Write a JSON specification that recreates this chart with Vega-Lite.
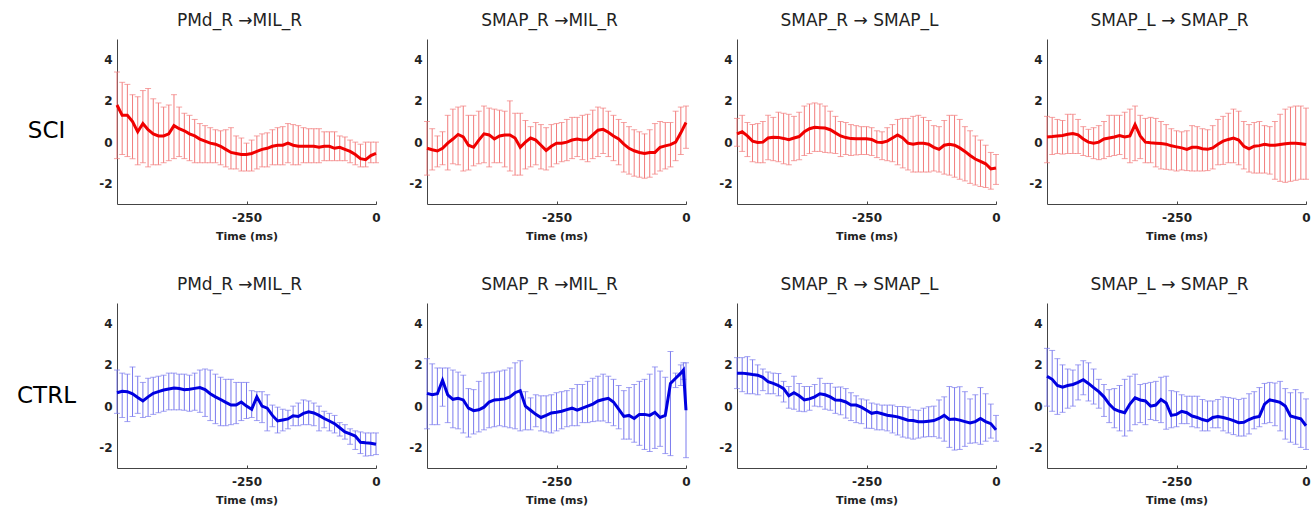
{
"$schema": "https://vega.github.io/schema/vega-lite/v6.json",
"padding": {"left": 16, "top": 12, "right": 5, "bottom": 5},
"background": "white",
"data": {"values": [
{"p":1,"t":-500,"m":1.8,"lo":-0.8,"hi":3.4},{"p":1,"t":-490,"m":1.3,"lo":-0.6,"hi":2.9},{"p":1,"t":-480,"m":1.3,"lo":-0.7,"hi":2.8},{"p":1,"t":-470,"m":1.0,"lo":-0.8,"hi":2.3},{"p":1,"t":-460,"m":0.5,"lo":-1.1,"hi":2.2},{"p":1,"t":-450,"m":0.9,"lo":-1.0,"hi":2.5},{"p":1,"t":-440,"m":0.6,"lo":-1.2,"hi":2.6},{"p":1,"t":-430,"m":0.4,"lo":-1.1,"hi":2.1},{"p":1,"t":-420,"m":0.3,"lo":-1.1,"hi":1.9},{"p":1,"t":-410,"m":0.3,"lo":-1.0,"hi":1.7},{"p":1,"t":-400,"m":0.4,"lo":-0.9,"hi":1.8},{"p":1,"t":-390,"m":0.8,"lo":-0.8,"hi":2.3},{"p":1,"t":-380,"m":0.65,"lo":-0.7,"hi":1.7},{"p":1,"t":-370,"m":0.55,"lo":-0.8,"hi":1.4},{"p":1,"t":-360,"m":0.4,"lo":-0.9,"hi":1.3},{"p":1,"t":-350,"m":0.3,"lo":-1.0,"hi":1.1},{"p":1,"t":-340,"m":0.15,"lo":-1.0,"hi":0.9},{"p":1,"t":-330,"m":0.05,"lo":-1.0,"hi":0.8},{"p":1,"t":-320,"m":-0.05,"lo":-1.0,"hi":0.7},{"p":1,"t":-310,"m":-0.1,"lo":-1.0,"hi":0.6},{"p":1,"t":-300,"m":-0.2,"lo":-1.1,"hi":0.55},{"p":1,"t":-290,"m":-0.35,"lo":-1.2,"hi":0.6},{"p":1,"t":-280,"m":-0.5,"lo":-1.3,"hi":0.7},{"p":1,"t":-270,"m":-0.55,"lo":-1.3,"hi":0.3},{"p":1,"t":-260,"m":-0.6,"lo":-1.4,"hi":0.2},{"p":1,"t":-250,"m":-0.6,"lo":-1.4,"hi":-0.05},{"p":1,"t":-240,"m":-0.55,"lo":-1.4,"hi":0.1},{"p":1,"t":-230,"m":-0.45,"lo":-1.3,"hi":0.3},{"p":1,"t":-220,"m":-0.35,"lo":-1.2,"hi":0.4},{"p":1,"t":-210,"m":-0.3,"lo":-1.2,"hi":0.45},{"p":1,"t":-200,"m":-0.2,"lo":-1.1,"hi":0.6},{"p":1,"t":-190,"m":-0.15,"lo":-1.1,"hi":0.7},{"p":1,"t":-180,"m":-0.15,"lo":-1.1,"hi":0.75},{"p":1,"t":-170,"m":-0.05,"lo":-1.0,"hi":0.9},{"p":1,"t":-160,"m":-0.15,"lo":-1.1,"hi":0.85},{"p":1,"t":-150,"m":-0.2,"lo":-1.1,"hi":0.8},{"p":1,"t":-140,"m":-0.2,"lo":-1.0,"hi":0.7},{"p":1,"t":-130,"m":-0.2,"lo":-1.0,"hi":0.65},{"p":1,"t":-120,"m":-0.2,"lo":-1.0,"hi":0.65},{"p":1,"t":-110,"m":-0.25,"lo":-1.0,"hi":0.65},{"p":1,"t":-100,"m":-0.2,"lo":-0.9,"hi":0.5},{"p":1,"t":-90,"m":-0.2,"lo":-0.9,"hi":0.5},{"p":1,"t":-80,"m":-0.3,"lo":-0.9,"hi":0.5},{"p":1,"t":-70,"m":-0.25,"lo":-0.9,"hi":0.3},{"p":1,"t":-60,"m":-0.35,"lo":-0.9,"hi":0.25},{"p":1,"t":-50,"m":-0.45,"lo":-1.0,"hi":0.1},{"p":1,"t":-40,"m":-0.6,"lo":-1.1,"hi":0.0},{"p":1,"t":-30,"m":-0.8,"lo":-1.2,"hi":-0.1},{"p":1,"t":-20,"m":-0.85,"lo":-1.2,"hi":0.0},{"p":1,"t":-10,"m":-0.65,"lo":-1.0,"hi":0.0},{"p":1,"t":0,"m":-0.55,"lo":-1.0,"hi":0.0},
{"p":2,"t":-500,"m":-0.3,"lo":-1.6,"hi":1.0},{"p":2,"t":-490,"m":-0.37,"lo":-1.35,"hi":0.65},{"p":2,"t":-480,"m":-0.43,"lo":-1.2,"hi":0.3},{"p":2,"t":-470,"m":-0.3,"lo":-1.1,"hi":0.5},{"p":2,"t":-460,"m":-0.05,"lo":-1.35,"hi":1.3},{"p":2,"t":-450,"m":0.15,"lo":-1.05,"hi":1.6},{"p":2,"t":-440,"m":0.37,"lo":-1.1,"hi":1.7},{"p":2,"t":-430,"m":0.25,"lo":-1.4,"hi":1.75},{"p":2,"t":-420,"m":-0.15,"lo":-1.35,"hi":1.3},{"p":2,"t":-410,"m":-0.25,"lo":-1.15,"hi":1.3},{"p":2,"t":-400,"m":0.1,"lo":-1.05,"hi":1.5},{"p":2,"t":-390,"m":0.4,"lo":-1.0,"hi":1.75},{"p":2,"t":-380,"m":0.35,"lo":-1.2,"hi":1.65},{"p":2,"t":-370,"m":0.15,"lo":-1.0,"hi":1.6},{"p":2,"t":-360,"m":0.3,"lo":-1.0,"hi":1.55},{"p":2,"t":-350,"m":0.35,"lo":-1.2,"hi":1.5},{"p":2,"t":-340,"m":0.35,"lo":-1.4,"hi":2.0},{"p":2,"t":-330,"m":0.2,"lo":-1.6,"hi":1.4},{"p":2,"t":-320,"m":-0.25,"lo":-1.6,"hi":1.4},{"p":2,"t":-310,"m":0.0,"lo":-1.3,"hi":1.05},{"p":2,"t":-300,"m":0.2,"lo":-1.2,"hi":0.75},{"p":2,"t":-290,"m":0.1,"lo":-1.1,"hi":0.95},{"p":2,"t":-280,"m":-0.15,"lo":-1.3,"hi":0.85},{"p":2,"t":-270,"m":-0.4,"lo":-1.35,"hi":0.7},{"p":2,"t":-260,"m":-0.2,"lo":-1.2,"hi":0.85},{"p":2,"t":-250,"m":-0.05,"lo":-1.05,"hi":0.9},{"p":2,"t":-240,"m":-0.05,"lo":-0.95,"hi":0.95},{"p":2,"t":-230,"m":0.0,"lo":-0.9,"hi":1.1},{"p":2,"t":-220,"m":0.1,"lo":-0.8,"hi":1.2},{"p":2,"t":-210,"m":0.15,"lo":-0.7,"hi":1.2},{"p":2,"t":-200,"m":0.1,"lo":-0.85,"hi":1.3},{"p":2,"t":-190,"m":0.12,"lo":-0.95,"hi":1.35},{"p":2,"t":-180,"m":0.35,"lo":-0.8,"hi":1.55},{"p":2,"t":-170,"m":0.58,"lo":-0.7,"hi":1.7},{"p":2,"t":-160,"m":0.62,"lo":-0.55,"hi":1.65},{"p":2,"t":-150,"m":0.48,"lo":-0.7,"hi":1.5},{"p":2,"t":-140,"m":0.3,"lo":-0.9,"hi":1.3},{"p":2,"t":-130,"m":0.15,"lo":-1.1,"hi":1.1},{"p":2,"t":-120,"m":-0.1,"lo":-1.45,"hi":0.95},{"p":2,"t":-110,"m":-0.3,"lo":-1.55,"hi":0.75},{"p":2,"t":-100,"m":-0.42,"lo":-1.65,"hi":0.6},{"p":2,"t":-90,"m":-0.5,"lo":-1.7,"hi":0.5},{"p":2,"t":-80,"m":-0.55,"lo":-1.75,"hi":0.4},{"p":2,"t":-70,"m":-0.5,"lo":-1.7,"hi":0.6},{"p":2,"t":-60,"m":-0.5,"lo":-1.55,"hi":0.9},{"p":2,"t":-50,"m":-0.25,"lo":-1.4,"hi":1.0},{"p":2,"t":-40,"m":-0.18,"lo":-1.3,"hi":0.95},{"p":2,"t":-30,"m":-0.12,"lo":-1.2,"hi":0.95},{"p":2,"t":-20,"m":0.0,"lo":-0.9,"hi":1.5},{"p":2,"t":-10,"m":0.45,"lo":-0.6,"hi":1.7},{"p":2,"t":0,"m":0.95,"lo":-0.3,"hi":1.75},
{"p":3,"t":-500,"m":0.4,"lo":-0.2,"hi":1.15},{"p":3,"t":-490,"m":0.5,"lo":-0.45,"hi":1.3},{"p":3,"t":-480,"m":0.3,"lo":-0.7,"hi":0.95},{"p":3,"t":-470,"m":0.05,"lo":-0.95,"hi":0.85},{"p":3,"t":-460,"m":-0.02,"lo":-1.0,"hi":0.9},{"p":3,"t":-450,"m":0.0,"lo":-1.0,"hi":1.0},{"p":3,"t":-440,"m":0.2,"lo":-0.85,"hi":1.3},{"p":3,"t":-430,"m":0.24,"lo":-0.9,"hi":1.2},{"p":3,"t":-420,"m":0.23,"lo":-0.95,"hi":1.45},{"p":3,"t":-410,"m":0.18,"lo":-1.05,"hi":1.4},{"p":3,"t":-400,"m":0.12,"lo":-1.1,"hi":1.35},{"p":3,"t":-390,"m":0.2,"lo":-0.9,"hi":1.25},{"p":3,"t":-380,"m":0.27,"lo":-0.85,"hi":1.45},{"p":3,"t":-370,"m":0.5,"lo":-0.65,"hi":1.75},{"p":3,"t":-360,"m":0.65,"lo":-0.55,"hi":1.85},{"p":3,"t":-350,"m":0.72,"lo":-0.45,"hi":1.9},{"p":3,"t":-340,"m":0.7,"lo":-0.45,"hi":1.85},{"p":3,"t":-330,"m":0.68,"lo":-0.5,"hi":1.75},{"p":3,"t":-320,"m":0.6,"lo":-0.52,"hi":1.5},{"p":3,"t":-310,"m":0.45,"lo":-0.55,"hi":1.25},{"p":3,"t":-300,"m":0.3,"lo":-0.7,"hi":1.0},{"p":3,"t":-290,"m":0.22,"lo":-0.6,"hi":0.95},{"p":3,"t":-280,"m":0.17,"lo":-0.65,"hi":0.85},{"p":3,"t":-270,"m":0.16,"lo":-0.62,"hi":0.8},{"p":3,"t":-260,"m":0.16,"lo":-0.6,"hi":0.75},{"p":3,"t":-250,"m":0.16,"lo":-0.6,"hi":0.75},{"p":3,"t":-240,"m":0.13,"lo":-0.65,"hi":0.7},{"p":3,"t":-230,"m":0.0,"lo":-0.75,"hi":0.55},{"p":3,"t":-220,"m":-0.02,"lo":-0.85,"hi":0.5},{"p":3,"t":-210,"m":0.05,"lo":-0.9,"hi":0.7},{"p":3,"t":-200,"m":0.2,"lo":-0.95,"hi":0.85},{"p":3,"t":-190,"m":0.35,"lo":-1.1,"hi":1.1},{"p":3,"t":-180,"m":0.2,"lo":-1.25,"hi":1.15},{"p":3,"t":-170,"m":-0.05,"lo":-1.35,"hi":1.15},{"p":3,"t":-160,"m":-0.1,"lo":-1.45,"hi":1.25},{"p":3,"t":-150,"m":-0.05,"lo":-1.45,"hi":1.3},{"p":3,"t":-140,"m":-0.05,"lo":-1.45,"hi":1.2},{"p":3,"t":-130,"m":-0.1,"lo":-1.45,"hi":1.05},{"p":3,"t":-120,"m":-0.25,"lo":-1.4,"hi":0.8},{"p":3,"t":-110,"m":-0.35,"lo":-1.45,"hi":0.75},{"p":3,"t":-100,"m":-0.15,"lo":-1.55,"hi":1.05},{"p":3,"t":-90,"m":-0.1,"lo":-1.6,"hi":1.3},{"p":3,"t":-80,"m":-0.15,"lo":-1.7,"hi":1.3},{"p":3,"t":-70,"m":-0.28,"lo":-1.8,"hi":1.1},{"p":3,"t":-60,"m":-0.45,"lo":-1.88,"hi":0.75},{"p":3,"t":-50,"m":-0.65,"lo":-2.0,"hi":0.55},{"p":3,"t":-40,"m":-0.82,"lo":-2.08,"hi":0.3},{"p":3,"t":-30,"m":-0.93,"lo":-2.15,"hi":0.1},{"p":3,"t":-20,"m":-1.05,"lo":-2.2,"hi":-0.15},{"p":3,"t":-10,"m":-1.3,"lo":-2.28,"hi":-0.5},{"p":3,"t":0,"m":-1.25,"lo":-2.05,"hi":-0.6},
{"p":4,"t":-500,"m":0.25,"lo":-1.0,"hi":1.25},{"p":4,"t":-490,"m":0.27,"lo":-0.6,"hi":1.2},{"p":4,"t":-480,"m":0.3,"lo":-0.55,"hi":1.1},{"p":4,"t":-470,"m":0.32,"lo":-0.58,"hi":1.05},{"p":4,"t":-460,"m":0.38,"lo":-0.55,"hi":1.35},{"p":4,"t":-450,"m":0.42,"lo":-0.55,"hi":1.35},{"p":4,"t":-440,"m":0.35,"lo":-0.55,"hi":1.1},{"p":4,"t":-430,"m":0.15,"lo":-0.65,"hi":0.75},{"p":4,"t":-420,"m":0.0,"lo":-0.7,"hi":0.62},{"p":4,"t":-410,"m":-0.05,"lo":-0.8,"hi":0.7},{"p":4,"t":-400,"m":0.0,"lo":-0.85,"hi":0.8},{"p":4,"t":-390,"m":0.15,"lo":-0.8,"hi":1.0},{"p":4,"t":-380,"m":0.2,"lo":-0.7,"hi":1.3},{"p":4,"t":-370,"m":0.25,"lo":-0.65,"hi":1.3},{"p":4,"t":-360,"m":0.32,"lo":-0.6,"hi":1.3},{"p":4,"t":-350,"m":0.25,"lo":-0.8,"hi":1.45},{"p":4,"t":-340,"m":0.3,"lo":-1.0,"hi":1.6},{"p":4,"t":-330,"m":0.85,"lo":-0.9,"hi":1.75},{"p":4,"t":-320,"m":0.3,"lo":-0.8,"hi":1.3},{"p":4,"t":-310,"m":0.0,"lo":-1.0,"hi":1.15},{"p":4,"t":-300,"m":-0.03,"lo":-1.0,"hi":1.2},{"p":4,"t":-290,"m":-0.05,"lo":-1.2,"hi":1.15},{"p":4,"t":-280,"m":-0.07,"lo":-1.3,"hi":1.0},{"p":4,"t":-270,"m":-0.1,"lo":-1.32,"hi":0.85},{"p":4,"t":-260,"m":-0.18,"lo":-1.35,"hi":0.65},{"p":4,"t":-250,"m":-0.23,"lo":-1.4,"hi":0.55},{"p":4,"t":-240,"m":-0.28,"lo":-1.35,"hi":0.5},{"p":4,"t":-230,"m":-0.35,"lo":-1.38,"hi":0.55},{"p":4,"t":-220,"m":-0.25,"lo":-1.4,"hi":0.8},{"p":4,"t":-210,"m":-0.25,"lo":-1.4,"hi":0.75},{"p":4,"t":-200,"m":-0.32,"lo":-1.4,"hi":0.65},{"p":4,"t":-190,"m":-0.35,"lo":-1.38,"hi":0.6},{"p":4,"t":-180,"m":-0.28,"lo":-1.3,"hi":0.8},{"p":4,"t":-170,"m":-0.1,"lo":-1.1,"hi":1.1},{"p":4,"t":-160,"m":0.05,"lo":-1.08,"hi":1.25},{"p":4,"t":-150,"m":0.13,"lo":-1.0,"hi":1.4},{"p":4,"t":-140,"m":0.2,"lo":-1.0,"hi":1.6},{"p":4,"t":-130,"m":0.1,"lo":-1.1,"hi":1.5},{"p":4,"t":-120,"m":-0.2,"lo":-1.3,"hi":1.0},{"p":4,"t":-110,"m":-0.33,"lo":-1.45,"hi":0.85},{"p":4,"t":-100,"m":-0.2,"lo":-1.5,"hi":0.95},{"p":4,"t":-90,"m":-0.17,"lo":-1.5,"hi":1.0},{"p":4,"t":-80,"m":-0.1,"lo":-1.5,"hi":0.8},{"p":4,"t":-70,"m":-0.15,"lo":-1.55,"hi":0.75},{"p":4,"t":-60,"m":-0.15,"lo":-1.8,"hi":1.0},{"p":4,"t":-50,"m":-0.11,"lo":-1.9,"hi":1.35},{"p":4,"t":-40,"m":-0.08,"lo":-1.95,"hi":1.6},{"p":4,"t":-30,"m":-0.05,"lo":-1.9,"hi":1.7},{"p":4,"t":-20,"m":-0.05,"lo":-1.85,"hi":1.75},{"p":4,"t":-10,"m":-0.08,"lo":-1.8,"hi":1.75},{"p":4,"t":0,"m":-0.12,"lo":-1.8,"hi":1.65},
{"p":5,"t":-500,"m":0.65,"lo":-0.35,"hi":1.75},{"p":5,"t":-490,"m":0.72,"lo":-0.55,"hi":1.6},{"p":5,"t":-480,"m":0.7,"lo":-0.75,"hi":1.55},{"p":5,"t":-470,"m":0.6,"lo":-0.5,"hi":1.9},{"p":5,"t":-460,"m":0.42,"lo":-0.35,"hi":1.45},{"p":5,"t":-450,"m":0.25,"lo":-0.55,"hi":1.15},{"p":5,"t":-440,"m":0.45,"lo":-0.5,"hi":1.35},{"p":5,"t":-430,"m":0.62,"lo":-0.4,"hi":1.4},{"p":5,"t":-420,"m":0.7,"lo":-0.32,"hi":1.45},{"p":5,"t":-410,"m":0.78,"lo":-0.25,"hi":1.5},{"p":5,"t":-400,"m":0.83,"lo":-0.18,"hi":1.6},{"p":5,"t":-390,"m":0.88,"lo":-0.18,"hi":1.6},{"p":5,"t":-380,"m":0.85,"lo":-0.18,"hi":1.55},{"p":5,"t":-370,"m":0.8,"lo":-0.2,"hi":1.55},{"p":5,"t":-360,"m":0.82,"lo":-0.25,"hi":1.5},{"p":5,"t":-350,"m":0.86,"lo":-0.2,"hi":1.6},{"p":5,"t":-340,"m":0.9,"lo":-0.3,"hi":1.75},{"p":5,"t":-330,"m":0.8,"lo":-0.5,"hi":1.8},{"p":5,"t":-320,"m":0.6,"lo":-0.7,"hi":1.75},{"p":5,"t":-310,"m":0.45,"lo":-0.85,"hi":1.55},{"p":5,"t":-300,"m":0.32,"lo":-0.95,"hi":1.4},{"p":5,"t":-290,"m":0.18,"lo":-0.95,"hi":1.3},{"p":5,"t":-280,"m":0.05,"lo":-0.9,"hi":1.3},{"p":5,"t":-270,"m":0.05,"lo":-0.85,"hi":1.15},{"p":5,"t":-260,"m":0.2,"lo":-0.7,"hi":1.15},{"p":5,"t":-250,"m":0.0,"lo":-0.6,"hi":1.15},{"p":5,"t":-240,"m":-0.15,"lo":-0.55,"hi":0.75},{"p":5,"t":-230,"m":0.45,"lo":-0.7,"hi":0.7},{"p":5,"t":-220,"m":0.0,"lo":-0.8,"hi":0.7},{"p":5,"t":-210,"m":-0.1,"lo":-1.2,"hi":0.55},{"p":5,"t":-200,"m":-0.45,"lo":-1.0,"hi":0.05},{"p":5,"t":-190,"m":-0.72,"lo":-1.3,"hi":-0.05},{"p":5,"t":-180,"m":-0.67,"lo":-1.2,"hi":-0.15},{"p":5,"t":-170,"m":-0.62,"lo":-1.1,"hi":-0.2},{"p":5,"t":-160,"m":-0.47,"lo":-0.95,"hi":0.0},{"p":5,"t":-150,"m":-0.5,"lo":-0.95,"hi":0.15},{"p":5,"t":-140,"m":-0.35,"lo":-0.9,"hi":0.3},{"p":5,"t":-130,"m":-0.28,"lo":-0.9,"hi":0.25},{"p":5,"t":-120,"m":-0.33,"lo":-0.95,"hi":0.15},{"p":5,"t":-110,"m":-0.45,"lo":-1.2,"hi":0.0},{"p":5,"t":-100,"m":-0.6,"lo":-1.05,"hi":-0.25},{"p":5,"t":-90,"m":-0.72,"lo":-1.2,"hi":-0.35},{"p":5,"t":-80,"m":-0.85,"lo":-1.3,"hi":-0.45},{"p":5,"t":-70,"m":-1.05,"lo":-1.45,"hi":-0.8},{"p":5,"t":-60,"m":-1.25,"lo":-1.6,"hi":-0.9},{"p":5,"t":-50,"m":-1.35,"lo":-1.85,"hi":-1.1},{"p":5,"t":-40,"m":-1.45,"lo":-2.1,"hi":-1.2},{"p":5,"t":-30,"m":-1.75,"lo":-2.3,"hi":-1.25},{"p":5,"t":-20,"m":-1.78,"lo":-2.42,"hi":-1.3},{"p":5,"t":-10,"m":-1.8,"lo":-2.4,"hi":-1.3},{"p":5,"t":0,"m":-1.85,"lo":-2.35,"hi":-1.3},
{"p":6,"t":-500,"m":0.62,"lo":-1.1,"hi":2.3},{"p":6,"t":-490,"m":0.55,"lo":-0.9,"hi":2.05},{"p":6,"t":-480,"m":0.6,"lo":-0.9,"hi":1.85},{"p":6,"t":-470,"m":1.25,"lo":0.0,"hi":1.85},{"p":6,"t":-460,"m":0.55,"lo":-0.8,"hi":1.85},{"p":6,"t":-450,"m":0.33,"lo":-1.05,"hi":1.75},{"p":6,"t":-440,"m":0.38,"lo":-1.1,"hi":1.65},{"p":6,"t":-430,"m":0.3,"lo":-1.3,"hi":1.5},{"p":6,"t":-420,"m":-0.1,"lo":-1.5,"hi":0.85},{"p":6,"t":-410,"m":-0.22,"lo":-1.35,"hi":0.8},{"p":6,"t":-400,"m":-0.18,"lo":-1.25,"hi":1.2},{"p":6,"t":-390,"m":-0.05,"lo":-1.15,"hi":1.6},{"p":6,"t":-380,"m":0.2,"lo":-1.05,"hi":1.62},{"p":6,"t":-370,"m":0.3,"lo":-1.0,"hi":1.65},{"p":6,"t":-360,"m":0.32,"lo":-0.95,"hi":1.7},{"p":6,"t":-350,"m":0.35,"lo":-1.0,"hi":1.75},{"p":6,"t":-340,"m":0.45,"lo":-1.05,"hi":1.85},{"p":6,"t":-330,"m":0.65,"lo":-1.1,"hi":2.1},{"p":6,"t":-320,"m":0.75,"lo":-1.2,"hi":2.2},{"p":6,"t":-310,"m":0.0,"lo":-1.15,"hi":0.7},{"p":6,"t":-300,"m":-0.2,"lo":-1.15,"hi":0.4},{"p":6,"t":-290,"m":-0.4,"lo":-1.0,"hi":0.55},{"p":6,"t":-280,"m":-0.55,"lo":-1.2,"hi":0.5},{"p":6,"t":-270,"m":-0.45,"lo":-1.25,"hi":0.5},{"p":6,"t":-260,"m":-0.33,"lo":-1.3,"hi":0.55},{"p":6,"t":-250,"m":-0.3,"lo":-1.2,"hi":0.65},{"p":6,"t":-240,"m":-0.25,"lo":-1.1,"hi":0.7},{"p":6,"t":-230,"m":-0.17,"lo":-1.0,"hi":0.75},{"p":6,"t":-220,"m":-0.1,"lo":-0.95,"hi":0.85},{"p":6,"t":-210,"m":-0.2,"lo":-0.95,"hi":1.05},{"p":6,"t":-200,"m":-0.1,"lo":-0.8,"hi":1.05},{"p":6,"t":-190,"m":0.0,"lo":-0.8,"hi":1.2},{"p":6,"t":-180,"m":0.1,"lo":-0.75,"hi":1.35},{"p":6,"t":-170,"m":0.25,"lo":-0.72,"hi":1.45},{"p":6,"t":-160,"m":0.32,"lo":-0.72,"hi":1.55},{"p":6,"t":-150,"m":0.38,"lo":-0.8,"hi":1.45},{"p":6,"t":-140,"m":0.2,"lo":-0.95,"hi":1.3},{"p":6,"t":-130,"m":-0.15,"lo":-1.1,"hi":1.0},{"p":6,"t":-120,"m":-0.5,"lo":-1.6,"hi":0.75},{"p":6,"t":-110,"m":-0.45,"lo":-1.6,"hi":0.9},{"p":6,"t":-100,"m":-0.6,"lo":-1.75,"hi":1.05},{"p":6,"t":-90,"m":-0.4,"lo":-1.9,"hi":1.2},{"p":6,"t":-80,"m":-0.4,"lo":-2.1,"hi":1.3},{"p":6,"t":-70,"m":-0.45,"lo":-2.2,"hi":1.55},{"p":6,"t":-60,"m":-0.3,"lo":-2.05,"hi":1.9},{"p":6,"t":-50,"m":-0.55,"lo":-1.95,"hi":1.7},{"p":6,"t":-40,"m":-0.45,"lo":-2.3,"hi":1.4},{"p":6,"t":-30,"m":1.1,"lo":-2.4,"hi":2.65},{"p":6,"t":-20,"m":1.35,"lo":0.9,"hi":1.6},{"p":6,"t":-10,"m":1.6,"lo":1.0,"hi":2.0},{"p":6,"t":-5,"m":1.75,"lo":1.3,"hi":2.1},{"p":6,"t":0,"m":-0.2,"lo":-2.5,"hi":2.1},
{"p":7,"t":-500,"m":1.6,"lo":0.85,"hi":2.35},{"p":7,"t":-490,"m":1.6,"lo":0.7,"hi":2.35},{"p":7,"t":-480,"m":1.57,"lo":0.6,"hi":2.4},{"p":7,"t":-470,"m":1.53,"lo":0.6,"hi":2.25},{"p":7,"t":-460,"m":1.5,"lo":0.55,"hi":2.0},{"p":7,"t":-450,"m":1.4,"lo":0.75,"hi":1.8},{"p":7,"t":-440,"m":1.18,"lo":0.6,"hi":1.65},{"p":7,"t":-430,"m":1.1,"lo":0.6,"hi":1.6},{"p":7,"t":-420,"m":1.0,"lo":0.5,"hi":1.58},{"p":7,"t":-410,"m":0.85,"lo":0.2,"hi":1.2},{"p":7,"t":-400,"m":0.5,"lo":-0.1,"hi":0.95},{"p":7,"t":-390,"m":0.65,"lo":-0.15,"hi":1.45},{"p":7,"t":-380,"m":0.5,"lo":-0.25,"hi":1.1},{"p":7,"t":-370,"m":0.3,"lo":-0.27,"hi":0.95},{"p":7,"t":-360,"m":0.35,"lo":-0.2,"hi":0.95},{"p":7,"t":-350,"m":0.45,"lo":0.0,"hi":1.05},{"p":7,"t":-340,"m":0.6,"lo":-0.03,"hi":1.35},{"p":7,"t":-330,"m":0.55,"lo":-0.15,"hi":1.1},{"p":7,"t":-320,"m":0.45,"lo":-0.2,"hi":1.1},{"p":7,"t":-310,"m":0.3,"lo":-0.35,"hi":0.92},{"p":7,"t":-300,"m":0.28,"lo":-0.42,"hi":0.93},{"p":7,"t":-290,"m":0.2,"lo":-0.58,"hi":0.85},{"p":7,"t":-280,"m":0.05,"lo":-0.7,"hi":0.65},{"p":7,"t":-270,"m":0.05,"lo":-0.8,"hi":0.5},{"p":7,"t":-260,"m":-0.05,"lo":-0.85,"hi":0.35},{"p":7,"t":-250,"m":-0.2,"lo":-1.07,"hi":0.3},{"p":7,"t":-240,"m":-0.35,"lo":-1.08,"hi":0.15},{"p":7,"t":-230,"m":-0.3,"lo":-1.15,"hi":0.1},{"p":7,"t":-220,"m":-0.37,"lo":-1.15,"hi":0.05},{"p":7,"t":-210,"m":-0.44,"lo":-1.2,"hi":0.05},{"p":7,"t":-200,"m":-0.48,"lo":-1.3,"hi":0.05},{"p":7,"t":-190,"m":-0.52,"lo":-1.4,"hi":-0.02},{"p":7,"t":-180,"m":-0.6,"lo":-1.5,"hi":-0.02},{"p":7,"t":-170,"m":-0.68,"lo":-1.55,"hi":-0.05},{"p":7,"t":-160,"m":-0.7,"lo":-1.6,"hi":-0.18},{"p":7,"t":-150,"m":-0.76,"lo":-1.55,"hi":-0.2},{"p":7,"t":-140,"m":-0.76,"lo":-1.5,"hi":-0.1},{"p":7,"t":-130,"m":-0.73,"lo":-1.48,"hi":-0.03},{"p":7,"t":-120,"m":-0.7,"lo":-1.48,"hi":0.0},{"p":7,"t":-110,"m":-0.6,"lo":-1.55,"hi":0.3},{"p":7,"t":-100,"m":-0.45,"lo":-1.7,"hi":0.45},{"p":7,"t":-90,"m":-0.65,"lo":-2.0,"hi":0.95},{"p":7,"t":-80,"m":-0.63,"lo":-2.13,"hi":0.9},{"p":7,"t":-70,"m":-0.68,"lo":-2.1,"hi":0.94},{"p":7,"t":-60,"m":-0.75,"lo":-1.95,"hi":0.7},{"p":7,"t":-50,"m":-0.82,"lo":-1.8,"hi":0.35},{"p":7,"t":-40,"m":-0.75,"lo":-1.78,"hi":0.55},{"p":7,"t":-30,"m":-0.6,"lo":-1.85,"hi":0.9},{"p":7,"t":-20,"m":-0.75,"lo":-1.7,"hi":0.6},{"p":7,"t":-10,"m":-0.85,"lo":-1.55,"hi":0.1},{"p":7,"t":0,"m":-1.15,"lo":-1.7,"hi":-0.45},
{"p":8,"t":-500,"m":1.45,"lo":0.0,"hi":2.8},{"p":8,"t":-490,"m":1.3,"lo":-0.25,"hi":2.7},{"p":8,"t":-480,"m":1.0,"lo":-0.4,"hi":2.3},{"p":8,"t":-470,"m":0.92,"lo":-0.3,"hi":2.0},{"p":8,"t":-460,"m":1.0,"lo":-0.1,"hi":1.8},{"p":8,"t":-450,"m":1.05,"lo":0.0,"hi":1.75},{"p":8,"t":-440,"m":1.15,"lo":0.3,"hi":2.0},{"p":8,"t":-430,"m":1.28,"lo":0.55,"hi":2.2},{"p":8,"t":-420,"m":1.1,"lo":0.25,"hi":2.1},{"p":8,"t":-410,"m":0.9,"lo":0.1,"hi":1.8},{"p":8,"t":-400,"m":0.7,"lo":-0.1,"hi":1.3},{"p":8,"t":-390,"m":0.45,"lo":-0.5,"hi":1.05},{"p":8,"t":-380,"m":0.1,"lo":-0.8,"hi":0.8},{"p":8,"t":-370,"m":-0.15,"lo":-1.05,"hi":0.85},{"p":8,"t":-360,"m":-0.25,"lo":-1.2,"hi":1.0},{"p":8,"t":-350,"m":-0.32,"lo":-1.45,"hi":1.3},{"p":8,"t":-340,"m":0.1,"lo":-1.2,"hi":1.45},{"p":8,"t":-330,"m":0.4,"lo":-0.9,"hi":1.55},{"p":8,"t":-320,"m":0.3,"lo":-0.8,"hi":1.05},{"p":8,"t":-310,"m":0.25,"lo":-0.9,"hi":1.1},{"p":8,"t":-300,"m":0.0,"lo":-0.65,"hi":1.15},{"p":8,"t":-290,"m":0.05,"lo":-0.7,"hi":1.2},{"p":8,"t":-280,"m":0.32,"lo":-0.8,"hi":1.4},{"p":8,"t":-270,"m":0.15,"lo":-1.12,"hi":1.45},{"p":8,"t":-260,"m":-0.45,"lo":-1.05,"hi":0.75},{"p":8,"t":-250,"m":-0.4,"lo":-1.0,"hi":0.7},{"p":8,"t":-240,"m":-0.25,"lo":-0.85,"hi":0.55},{"p":8,"t":-230,"m":-0.32,"lo":-0.85,"hi":0.48},{"p":8,"t":-220,"m":-0.48,"lo":-1.0,"hi":0.48},{"p":8,"t":-210,"m":-0.55,"lo":-1.05,"hi":0.48},{"p":8,"t":-200,"m":-0.65,"lo":-1.2,"hi":0.32},{"p":8,"t":-190,"m":-0.72,"lo":-1.2,"hi":0.25},{"p":8,"t":-180,"m":-0.55,"lo":-1.05,"hi":0.25},{"p":8,"t":-170,"m":-0.5,"lo":-1.05,"hi":0.32},{"p":8,"t":-160,"m":-0.55,"lo":-1.2,"hi":0.45},{"p":8,"t":-150,"m":-0.62,"lo":-1.3,"hi":0.42},{"p":8,"t":-140,"m":-0.7,"lo":-1.38,"hi":0.38},{"p":8,"t":-130,"m":-0.8,"lo":-1.45,"hi":0.32},{"p":8,"t":-120,"m":-0.78,"lo":-1.45,"hi":0.38},{"p":8,"t":-110,"m":-0.65,"lo":-1.35,"hi":0.6},{"p":8,"t":-100,"m":-0.55,"lo":-1.1,"hi":0.7},{"p":8,"t":-90,"m":-0.5,"lo":-1.0,"hi":0.9},{"p":8,"t":-80,"m":0.1,"lo":-0.85,"hi":1.1},{"p":8,"t":-70,"m":0.3,"lo":-0.8,"hi":1.15},{"p":8,"t":-60,"m":0.25,"lo":-0.95,"hi":1.12},{"p":8,"t":-50,"m":0.18,"lo":-1.2,"hi":1.2},{"p":8,"t":-40,"m":0.0,"lo":-1.6,"hi":0.85},{"p":8,"t":-30,"m":-0.48,"lo":-1.75,"hi":0.65},{"p":8,"t":-20,"m":-0.55,"lo":-1.85,"hi":0.8},{"p":8,"t":-10,"m":-0.62,"lo":-2.0,"hi":0.65},{"p":8,"t":0,"m":-0.95,"lo":-2.1,"hi":0.35}
]},
"columns": 4,
"spacing": {"row": 99, "column": 51},
"bounds": "flush",
"concat": [
{"title": "PMd_R →MIL_R", "width": 259, "height": 165, "transform": [{"filter": "datum.p == 1"}],
 "encoding": {"x": {"field": "t", "type": "quantitative", "scale": {"domain": [-500, 0], "nice": false}, "axis": {"values": [-250, 0], "title": "Time (ms)"}}},
 "layer": [
  {"mark": {"type": "errorbar", "color": "#f27c7c", "thickness": 1, "ticks": {"size": 6}}, "encoding": {"y": {"field": "lo", "type": "quantitative", "scale": {"domain": [-3, 5], "nice": false}, "axis": {"values": [-2, 0, 2, 4], "title": "SCI", "titleFont": "DejaVu Sans", "titleAngle": 0, "titleFontSize": 23, "titleFontWeight": "normal", "titleColor": "#000", "titleAlign": "center", "titleBaseline": "middle", "titleX": -71, "titleY": 91}}, "y2": {"field": "hi"}}},
  {"mark": {"type": "line", "color": "#f00000", "strokeWidth": 3}, "encoding": {"y": {"field": "m", "type": "quantitative"}}}
 ]},
{"title": "SMAP_R →MIL_R", "width": 259, "height": 165, "transform": [{"filter": "datum.p == 2"}],
 "encoding": {"x": {"field": "t", "type": "quantitative", "scale": {"domain": [-500, 0], "nice": false}, "axis": {"values": [-250, 0], "title": "Time (ms)"}}},
 "layer": [
  {"mark": {"type": "errorbar", "color": "#f27c7c", "thickness": 1, "ticks": {"size": 6}}, "encoding": {"y": {"field": "lo", "type": "quantitative", "scale": {"domain": [-3, 5], "nice": false}, "axis": {"values": [-2, 0, 2, 4], "title": null}}, "y2": {"field": "hi"}}},
  {"mark": {"type": "line", "color": "#f00000", "strokeWidth": 3}, "encoding": {"y": {"field": "m", "type": "quantitative"}}}
 ]},
{"title": "SMAP_R → SMAP_L", "width": 259, "height": 165, "transform": [{"filter": "datum.p == 3"}],
 "encoding": {"x": {"field": "t", "type": "quantitative", "scale": {"domain": [-500, 0], "nice": false}, "axis": {"values": [-250, 0], "title": "Time (ms)"}}},
 "layer": [
  {"mark": {"type": "errorbar", "color": "#f27c7c", "thickness": 1, "ticks": {"size": 6}}, "encoding": {"y": {"field": "lo", "type": "quantitative", "scale": {"domain": [-3, 5], "nice": false}, "axis": {"values": [-2, 0, 2, 4], "title": null}}, "y2": {"field": "hi"}}},
  {"mark": {"type": "line", "color": "#f00000", "strokeWidth": 3}, "encoding": {"y": {"field": "m", "type": "quantitative"}}}
 ]},
{"title": "SMAP_L → SMAP_R", "width": 259, "height": 165, "transform": [{"filter": "datum.p == 4"}],
 "encoding": {"x": {"field": "t", "type": "quantitative", "scale": {"domain": [-500, 0], "nice": false}, "axis": {"values": [-250, 0], "title": "Time (ms)"}}},
 "layer": [
  {"mark": {"type": "errorbar", "color": "#f27c7c", "thickness": 1, "ticks": {"size": 6}}, "encoding": {"y": {"field": "lo", "type": "quantitative", "scale": {"domain": [-3, 5], "nice": false}, "axis": {"values": [-2, 0, 2, 4], "title": null}}, "y2": {"field": "hi"}}},
  {"mark": {"type": "line", "color": "#f00000", "strokeWidth": 3}, "encoding": {"y": {"field": "m", "type": "quantitative"}}}
 ]},
{"title": "PMd_R →MIL_R", "width": 259, "height": 165, "transform": [{"filter": "datum.p == 5"}],
 "encoding": {"x": {"field": "t", "type": "quantitative", "scale": {"domain": [-500, 0], "nice": false}, "axis": {"values": [-250, 0], "title": "Time (ms)"}}},
 "layer": [
  {"mark": {"type": "errorbar", "color": "#7a7aee", "thickness": 1, "ticks": {"size": 6}}, "encoding": {"y": {"field": "lo", "type": "quantitative", "scale": {"domain": [-3, 5], "nice": false}, "axis": {"values": [-2, 0, 2, 4], "title": "CTRL", "titleFont": "DejaVu Sans", "titleAngle": 0, "titleFontSize": 23, "titleFontWeight": "normal", "titleColor": "#000", "titleAlign": "center", "titleBaseline": "middle", "titleX": -71, "titleY": 92}}, "y2": {"field": "hi"}}},
  {"mark": {"type": "line", "color": "#0000e0", "strokeWidth": 3}, "encoding": {"y": {"field": "m", "type": "quantitative"}}}
 ]},
{"title": "SMAP_R →MIL_R", "width": 259, "height": 165, "transform": [{"filter": "datum.p == 6"}],
 "encoding": {"x": {"field": "t", "type": "quantitative", "scale": {"domain": [-500, 0], "nice": false}, "axis": {"values": [-250, 0], "title": "Time (ms)"}}},
 "layer": [
  {"mark": {"type": "errorbar", "color": "#7a7aee", "thickness": 1, "ticks": {"size": 6}}, "encoding": {"y": {"field": "lo", "type": "quantitative", "scale": {"domain": [-3, 5], "nice": false}, "axis": {"values": [-2, 0, 2, 4], "title": null}}, "y2": {"field": "hi"}}},
  {"mark": {"type": "line", "color": "#0000e0", "strokeWidth": 3}, "encoding": {"y": {"field": "m", "type": "quantitative"}}}
 ]},
{"title": "SMAP_R → SMAP_L", "width": 259, "height": 165, "transform": [{"filter": "datum.p == 7"}],
 "encoding": {"x": {"field": "t", "type": "quantitative", "scale": {"domain": [-500, 0], "nice": false}, "axis": {"values": [-250, 0], "title": "Time (ms)"}}},
 "layer": [
  {"mark": {"type": "errorbar", "color": "#7a7aee", "thickness": 1, "ticks": {"size": 6}}, "encoding": {"y": {"field": "lo", "type": "quantitative", "scale": {"domain": [-3, 5], "nice": false}, "axis": {"values": [-2, 0, 2, 4], "title": null}}, "y2": {"field": "hi"}}},
  {"mark": {"type": "line", "color": "#0000e0", "strokeWidth": 3}, "encoding": {"y": {"field": "m", "type": "quantitative"}}}
 ]},
{"title": "SMAP_L → SMAP_R", "width": 259, "height": 165, "transform": [{"filter": "datum.p == 8"}],
 "encoding": {"x": {"field": "t", "type": "quantitative", "scale": {"domain": [-500, 0], "nice": false}, "axis": {"values": [-250, 0], "title": "Time (ms)"}}},
 "layer": [
  {"mark": {"type": "errorbar", "color": "#7a7aee", "thickness": 1, "ticks": {"size": 6}}, "encoding": {"y": {"field": "lo", "type": "quantitative", "scale": {"domain": [-3, 5], "nice": false}, "axis": {"values": [-2, 0, 2, 4], "title": null}}, "y2": {"field": "hi"}}},
  {"mark": {"type": "line", "color": "#0000e0", "strokeWidth": 3}, "encoding": {"y": {"field": "m", "type": "quantitative"}}}
 ]}
],
"config": {
 "font": "DejaVu Sans",
 "view": {"stroke": null},
 "axis": {"grid": false, "domainColor": "#444", "domainWidth": 1, "labelFont": "DejaVu Sans", "labelFontWeight": "bold", "labelFontSize": 12, "labelColor": "#222", "labelExpr": "'' + datum.value", "titleFont": "DejaVu Sans", "titleFontWeight": "bold", "titleFontSize": 11, "titleColor": "#222"},
 "axisY": {"ticks": false, "labelPadding": 5},
 "axisX": {"tickSize": -3, "tickColor": "#444", "labelPadding": 11, "titlePadding": 7, "labelFlush": false},
 "title": {"font": "DejaVu Sans", "fontSize": 17, "fontWeight": "normal", "color": "#222", "baseline": "alphabetic", "offset": 9, "dx": -7}
}
}
